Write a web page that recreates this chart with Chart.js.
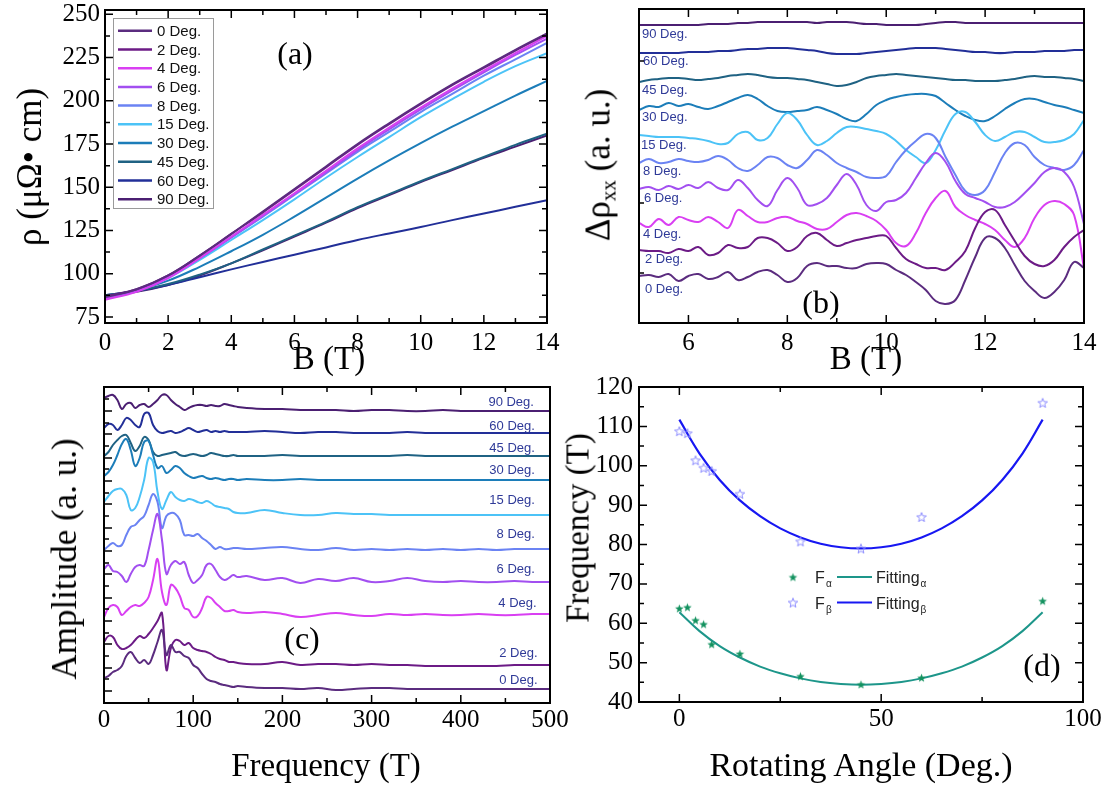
<!DOCTYPE html>
<html>
<head>
<meta charset="utf-8">
<title>Angle dependent magnetoresistance and quantum oscillations</title>
<script src="https://cdn.jsdelivr.net/npm/chart.js@4.4.0/dist/chart.umd.min.js"></script>
<style>
  html, body { margin: 0; padding: 0; background: #fff; }
  #fig { position: relative; width: 1110px; height: 787px; overflow: hidden;
         font-family: "Liberation Serif", "Times New Roman", serif; color: #000; }
  #fig canvas { position: absolute; }
  .title { position: absolute; font-size: 33px; white-space: nowrap; transform: translate(-50%, -50%); }
  .title.v { transform: translate(-50%, -50%) rotate(-90deg); }
  .title sub { font-size: 21px; vertical-align: -6px; }
  .tag { position: absolute; font-size: 32px; transform: translate(-50%, -50%); }
</style>
</head>
<body>
<div id="fig">
  <canvas id="panelA" width="570" height="390" style="left:0;top:0"></canvas>
  <canvas id="panelB" width="540" height="390" style="left:570px;top:0"></canvas>
  <canvas id="panelC" width="570" height="412" style="left:0;top:375px"></canvas>
  <canvas id="panelD" width="540" height="412" style="left:570px;top:375px"></canvas>

  <div class="title v" style="left:30px;top:167px;font-size:35px">ρ (μΩ• cm)</div>
  <div class="title" style="left:329px;top:358px">B (T)</div>
  <div class="title v" style="left:600px;top:165px;font-size:35px">Δρ<sub>xx</sub> (a. u.)</div>
  <div class="title" style="left:866px;top:358px">B (T)</div>
  <div class="title v" style="left:65px;top:559px;font-size:35px">Amplitude (a. u.)</div>
  <div class="title" style="left:326px;top:765px">Frequency (T)</div>
  <div class="title v" style="left:578px;top:528px">Frequency (T)</div>
  <div class="title" style="left:861px;top:765px;font-size:34px">Rotating Angle (Deg.)</div>

  <div class="tag" style="left:295px;top:53px">(a)</div>
  <div class="tag" style="left:821px;top:302px">(b)</div>
  <div class="tag" style="left:302px;top:638px">(c)</div>
  <div class="tag" style="left:1042px;top:665px">(d)</div>
</div>

<script>
// ---------- shared ----------
const angleLabels = ['0 Deg.', '2 Deg.', '4 Deg.', '6 Deg.', '8 Deg.', '15 Deg.', '30 Deg.', '45 Deg.', '60 Deg.', '90 Deg.'];
const angleColors = ['#5b2c7f', '#6c1b86', '#d93ff2', '#a24ff0', '#6b83f3', '#4cc3f7', '#1c7db9', '#1f6283', '#222f98', '#4b1f72'];

// ---------- (a) resistivity vs field ----------
const fieldA = [0, 1, 2, 3, 4, 5, 6, 7, 8, 9, 10, 11, 12, 13, 14];
const rho00 = [86.5, 91, 99, 110.5, 123, 136, 149, 162, 175, 187, 198.5, 209.5, 219.5, 229.5, 239];
const rho02 = [87, 91, 99, 110.5, 123, 135.5, 148.5, 161.5, 174.5, 186.5, 198, 209, 219, 229, 238.5];
const rho04 = [85, 89.5, 97.5, 109, 121.5, 134, 146.5, 159.5, 172.5, 184.5, 196, 207, 217.5, 227.5, 237.5];
const rho06 = [85.5, 90, 98, 109, 121, 133.5, 146, 158.5, 171.5, 183.5, 195, 206, 216.5, 226.5, 236];
const rho08 = [86, 90, 98, 109, 121, 133, 145.5, 158, 170.5, 182, 193.5, 204, 214.5, 224, 233.5];
const rho15 = [86, 90, 97.5, 108, 119.5, 131, 143, 155.5, 167.5, 179, 190.5, 201, 211, 220, 227.5];
const rho30 = [87, 90.5, 96, 104, 113, 122.5, 133, 144, 155, 165.5, 175.5, 185, 194, 203, 211.5];
const rho45 = [87.5, 90, 94, 99.5, 106, 114, 122, 130, 138.5, 146, 153.5, 160.5, 167.5, 174.5, 181];
const rho60 = [87.5, 90, 93.5, 98, 102.5, 106.8, 111, 115.2, 119.5, 123.3, 127, 131, 134.8, 138.7, 142.5];
const rho90 = [87, 89.5, 93.5, 99, 106, 113.5, 121.5, 129.5, 138, 145.5, 153, 160, 167, 173.5, 180];
const aXTicks = [0, 2, 4, 6, 8, 10, 12, 14];
const aXMinor = [1, 3, 5, 7, 9, 11, 13];
const aYTicks = [75, 100, 125, 150, 175, 200, 225, 250];
const aYMinor = [87.5, 112.5, 137.5, 162.5, 187.5, 212.5, 237.5];

// ---------- (b) oscillatory part, offset per angle ----------
const fieldB = [5.0, 5.2, 5.4, 5.6, 5.8, 6.0, 6.2, 6.4, 6.6, 6.8, 7.0, 7.2, 7.4, 7.6, 7.8, 8.0, 8.2, 8.4, 8.6, 8.8,
  9.0, 9.2, 9.4, 9.6, 9.8, 10.0, 10.2, 10.4, 10.6, 10.8, 11.0, 11.2, 11.4, 11.6, 11.8, 12.0, 12.2, 12.4, 12.6, 12.8,
  13.0, 13.2, 13.4, 13.6, 13.8, 14.0];
const osc00 = [47, 48, 46, 49, 42, 47, 49, 44, 46, 51, 43, 46, 51, 53, 48, 41, 45, 57, 60, 57,
  57, 55, 55, 59, 60, 59, 53, 48, 41, 33, 22, 19, 23, 43, 66, 85, 85, 75, 58, 42, 32, 25, 31, 43, 61, 55];
const osc02 = [73, 72, 72, 70, 74, 72, 76, 68, 70, 78, 75, 76, 85, 85, 80, 72, 76, 87, 90, 83,
  77, 80, 83, 85, 87, 87, 75, 64, 59, 55, 55, 53, 61, 72, 95, 111, 113, 98, 82, 67, 59, 57, 63, 76, 86, 93];
const osc04 = [100, 96, 104, 98, 106, 103, 101, 106, 101, 95, 113, 107, 101, 101, 105, 106, 102, 99, 94, 94,
  101, 108, 110, 107, 102, 93, 80, 77, 90, 110, 125, 132, 116, 108, 103, 99, 93, 83, 76, 85, 105, 118, 122, 119, 108, 55];
const osc06 = [134, 136, 133, 137, 134, 138, 135, 141, 135, 133, 143, 135, 123, 117, 133, 145, 135, 118, 119, 125,
  138, 149, 138, 118, 112, 121, 123, 130, 145, 160, 170, 161, 142, 129, 125, 121, 116, 116, 121, 130, 140, 151, 155, 151, 136, 99];
const osc08 = [160, 164, 160, 161, 164, 162, 161, 163, 167, 163, 155, 152, 158, 166, 165, 158, 155, 163, 173, 168,
  160, 155, 151, 146, 145, 147, 161, 173, 182, 189, 185, 166, 148, 132, 128, 133, 151, 170, 180, 178, 166, 158, 155, 153, 158, 173];
const osc15 = [188, 187, 186, 186, 186, 185, 184, 182, 179, 180, 189, 191, 183, 185, 199, 210, 203, 188, 178, 182,
  190, 196, 196, 194, 192, 189, 182, 173, 166, 160, 173, 193, 209, 211, 201, 188, 182, 186, 191, 191, 186, 181, 181, 183, 189, 203];
const osc30 = [213, 217, 216, 220, 217, 219, 216, 214, 217, 221, 225, 228, 224, 217, 212, 211, 212, 213, 216, 213,
  209, 204, 202, 209, 218, 223, 226, 228, 229, 229, 227, 220, 213, 207, 203, 202, 207, 214, 220, 224, 224, 221, 218, 216, 213, 210];
const osc45 = [241, 243, 244, 245, 245, 244, 243, 244, 245, 247, 248, 249, 248, 246, 245, 245, 244, 243, 241, 239,
  237, 238, 241, 245, 247, 248, 249, 248, 247, 246, 245, 244, 243, 243, 242, 242, 242, 243, 244, 246, 247, 246, 246, 245, 244, 242];
const osc60 = [270, 270, 270, 270, 270, 271, 271, 271, 272, 272, 273, 274, 274, 275, 275, 275, 274, 273, 272, 270,
  269, 269, 269, 270, 271, 272, 273, 274, 275, 275, 275, 274, 273, 272, 271, 271, 270, 270, 271, 271, 271, 272, 272, 272, 273, 273];
const osc90 = [298, 298, 298, 298, 298, 298, 298, 299, 299, 299, 300, 300, 301, 301, 301, 301, 301, 301, 300, 301,
  301, 301, 300, 299, 299, 298, 298, 298, 298, 299, 300, 301, 301, 300, 300, 300, 300, 300, 300, 300, 300, 300, 300, 300, 300, 300];
const bXTicks = [6, 8, 10, 12, 14];
const bXMinor = [5, 7, 9, 11, 13];
const bYMarks = [50, 120, 262];

// ---------- (c) FFT amplitude, offset per angle ----------
const freqC = [0, 5, 10, 15, 20, 25, 30, 35, 40, 45, 50, 55, 60, 65, 70, 75, 80, 85, 90, 95, 100,
  105, 110, 115, 120, 125, 130, 135, 140, 145, 150,
  160, 180, 200, 220, 240, 260, 280, 300, 320, 340, 360, 380, 400, 420, 440, 460, 480, 500];
const fft00 = [25, 27, 31, 33, 37, 47, 51, 45, 40, 43, 39, 48, 61, 73, 48, 58, 51, 51, 47, 45, 38, 35, 29, 24, 22, 21, 19, 18, 17, 16, 17,
  16, 15, 15, 14, 15, 13, 14, 15, 15, 14, 14, 14, 14, 14, 14, 14, 14, 14];
const fft02 = [61, 67, 66, 58, 54, 55, 58, 63, 67, 65, 69, 75, 82, 90, 33, 55, 63, 62, 58, 60, 55, 53, 52, 51, 49, 46, 44, 43, 41, 41, 40,
  39, 39, 41, 38, 39, 39, 38, 39, 38, 38, 37, 37, 37, 37, 37, 38, 38, 38];
const fft04 = [86, 95, 98, 96, 88, 92, 96, 98, 97, 100, 106, 123, 144, 111, 98, 118, 115, 107, 95, 93, 86, 87, 95, 106, 105, 100, 96, 92, 92, 93, 91,
  90, 91, 89, 86, 88, 90, 88, 87, 89, 88, 89, 88, 88, 89, 88, 88, 89, 89];
const fft06 = [134, 138, 132, 131, 127, 121, 129, 136, 138, 137, 153, 173, 189, 163, 129, 138, 142, 139, 141, 128, 120, 123, 128, 138, 139, 133, 126, 123, 125, 128, 126,
  127, 123, 125, 120, 124, 122, 125, 121, 122, 125, 122, 121, 122, 121, 121, 122, 121, 121];
const fft08 = [153, 157, 160, 157, 158, 168, 176, 178, 183, 187, 198, 209, 201, 175, 187, 190, 189, 183, 168, 168, 167, 169, 165, 162, 158, 154, 156, 154, 154, 155, 155,
  154, 155, 156, 154, 153, 155, 153, 154, 153, 154, 153, 154, 153, 154, 153, 154, 154, 154];
const fft15 = [201, 207, 212, 214, 214, 208, 193, 195, 206, 223, 245, 241, 211, 194, 203, 211, 206, 203, 202, 204, 203, 201, 200, 202, 200, 197, 196, 195, 194, 191, 190,
  190, 193, 190, 188, 188, 190, 189, 189, 188, 188, 188, 188, 188, 188, 188, 188, 188, 188];
const fft30 = [227, 231, 238, 248, 259, 264, 253, 237, 245, 261, 262, 248, 235, 237, 230, 233, 237, 235, 230, 227, 225, 226, 227, 225, 224, 225, 224, 223, 224, 224, 223,
  224, 223, 223, 224, 223, 223, 223, 223, 223, 223, 223, 223, 223, 223, 223, 223, 223, 223];
const fft45 = [247, 251, 258, 263, 267, 268, 260, 252, 257, 266, 263, 251, 247, 248, 249, 250, 251, 248, 247, 248, 249, 248, 247, 248, 250, 249, 248, 247, 247, 248, 247,
  247, 247, 248, 247, 247, 247, 247, 247, 247, 248, 247, 247, 247, 247, 247, 247, 247, 247];
const fft60 = [275, 279, 278, 273, 278, 285, 283, 278, 276, 289, 290, 278, 272, 270, 271, 272, 270, 271, 273, 275, 273, 271, 272, 273, 271, 272, 271, 272, 271, 271, 271,
  271, 272, 271, 270, 271, 271, 270, 270, 270, 271, 270, 270, 270, 270, 270, 270, 270, 270];
const fft90 = [305, 307, 308, 303, 294, 299, 300, 295, 298, 299, 296, 299, 303, 308, 308, 303, 299, 296, 293, 295, 297, 298, 298, 297, 298, 297, 297, 299, 298, 297, 296,
  295, 294, 294, 293, 293, 293, 292, 293, 293, 292, 292, 293, 292, 292, 292, 292, 292, 292];
const cXTicks = [0, 100, 200, 300, 400, 500];
const cXMinor = [50, 150, 250, 350, 450];
const cYMajor = [12, 35, 59, 82, 105, 129, 152, 175, 199, 222, 245, 269, 292];
const cYMinor = [24, 47, 70, 94, 117, 140, 164, 187, 210, 234, 257, 280, 304];

// ---------- (d) frequencies vs rotating angle ----------
const angleD = [0, 2, 4, 6, 8, 15, 30, 45, 60, 90];
const freqAlpha = [63.8, 64.1, 60.8, 59.8, 54.7, 52.3, 46.6, 44.5, 46.2, 65.7];
const freqBeta = [108.8, 108.3, 101.4, 99.5, 98.7, 92.9, 80.8, 79.0, 87.0, 116.0];
const fitAngle = [0, 5, 10, 15, 20, 25, 30, 35, 40, 45, 50, 55, 60, 65, 70, 75, 80, 85, 90];
const fitAlpha = [62.8, 58.0, 54.2, 51.3, 49.0, 47.3, 46.0, 45.1, 44.6, 44.4, 44.6, 45.1, 46.0, 47.3, 49.0, 51.3, 54.2, 58.0, 62.8];
const fitBeta = [111.7, 103.1, 96.4, 91.2, 87.2, 84.1, 81.8, 80.2, 79.3, 79.0, 79.3, 80.2, 81.8, 84.1, 87.2, 91.2, 96.4, 103.1, 111.7];
const dXTicks = [0, 50, 100];
const dXMinor = [25, 75];
const dYTicks = [40, 50, 60, 70, 80, 90, 100, 110, 120];
const dYMinor = [45, 55, 65, 75, 85, 95, 105, 115];

// ---------- helpers ----------
const serif = '"Liberation Serif", "Times New Roman", serif';
const sans = '"Liberation Sans", Arial, sans-serif';
const tickFont = { family: serif, size: 25 };
const alphaColor = '#13925f', fitAlphaColor = '#1d968a';
const betaColor = '#8c8cff', fitBetaColor = '#1717f2';

const pts = (xs, ys) => ys.map((v, i) => ({ x: xs[i], y: v }));

function makeStar(size, fill, stroke) {
  const c = document.createElement('canvas');
  c.width = c.height = size;
  const g = c.getContext('2d');
  const r = size / 2 - 1, ri = r * 0.42, cx = size / 2, cy = size / 2 + 0.6;
  g.beginPath();
  for (let k = 0; k < 10; k++) {
    const rr = k % 2 ? ri : r;
    const ang = -Math.PI / 2 + k * Math.PI / 5;
    g.lineTo(cx + rr * Math.cos(ang), cy + rr * Math.sin(ang));
  }
  g.closePath();
  if (fill) { g.fillStyle = fill; g.fill(); }
  if (stroke) { g.strokeStyle = stroke; g.lineWidth = 1; g.stroke(); }
  return c;
}
const starAlpha = makeStar(11, alphaColor, null);
const starBeta = makeStar(12, null, betaColor);

// scales with the plot box pinned to fixed pixel offsets inside the canvas
function pinnedScales(o) {
  return {
    x: {
      type: 'linear', min: o.xMin, max: o.xMax,
      afterBuildTicks: s => { s.ticks = o.xTicks.map(v => ({ value: v })); },
      afterFit: s => { s.height = o.xHeight; s.paddingLeft = 0; s.paddingRight = 0; },
      grid: { display: false, drawTicks: false },
      border: { display: false },
      ticks: { display: o.xLabels !== false, padding: o.xPad, color: '#000', font: tickFont, maxRotation: 0, autoSkip: false }
    },
    y: {
      type: 'linear', min: o.yMin, max: o.yMax,
      afterBuildTicks: s => { s.ticks = o.yTicks.map(v => ({ value: v })); },
      afterFit: s => { s.width = o.yWidth; s.paddingTop = 0; s.paddingBottom = 0; },
      grid: { display: false, drawTicks: false },
      border: { display: false },
      ticks: { display: o.yLabels !== false, padding: o.yPad, color: '#000', font: tickFont, autoSkip: false }
    }
  };
}

// box frame with inward ticks on the requested sides
const boxTicks = {
  id: 'boxTicks',
  afterDraw(chart, _args, o) {
    const { ctx, chartArea: a } = chart;
    const xs = chart.scales.x, ys = chart.scales.y;
    ctx.save();
    ctx.strokeStyle = '#000';
    ctx.lineWidth = 1.5;
    ctx.beginPath();
    const xMark = (vals, len) => (vals || []).forEach(v => {
      const p = xs.getPixelForValue(v);
      if (o.xSides.includes('b')) { ctx.moveTo(p, a.bottom); ctx.lineTo(p, a.bottom - len); }
      if (o.xSides.includes('t')) { ctx.moveTo(p, a.top); ctx.lineTo(p, a.top + len); }
    });
    const yMark = (vals, len) => (vals || []).forEach(v => {
      const p = ys.getPixelForValue(v);
      if (o.ySides.includes('l')) { ctx.moveTo(a.left, p); ctx.lineTo(a.left + len, p); }
      if (o.ySides.includes('r')) { ctx.moveTo(a.right, p); ctx.lineTo(a.right - len, p); }
    });
    xMark(o.xMajor, 8); xMark(o.xMinor, 5);
    yMark(o.yMajor, 8); yMark(o.yMinor, 5);
    ctx.stroke();
    ctx.lineWidth = 2;
    ctx.strokeRect(a.left, a.top, a.right - a.left, a.bottom - a.top);
    ctx.restore();
  }
};

// small angle captions next to the stacked curves
const curveTags = {
  id: 'curveTags',
  afterDatasetsDraw(chart, _args, o) {
    const { ctx } = chart;
    const xs = chart.scales.x, ys = chart.scales.y;
    ctx.save();
    ctx.font = '13px ' + sans;
    ctx.fillStyle = '#2f3a98';
    ctx.textBaseline = 'middle';
    ctx.textAlign = o.align;
    o.items.forEach(t => ctx.fillText(t.text, xs.getPixelForValue(t.x), ys.getPixelForValue(t.y)));
    ctx.restore();
  }
};

// framed legend in the upper-left corner of panel (a)
const legendA = {
  id: 'legendA',
  afterDraw(chart) {
    const { ctx, chartArea: a } = chart;
    const x0 = a.left + 8, y0 = a.top + 8;
    ctx.save();
    ctx.fillStyle = '#fff';
    ctx.fillRect(x0, y0, 100, 190);
    ctx.strokeStyle = '#9a9a9a';
    ctx.lineWidth = 1;
    ctx.strokeRect(x0 + 0.5, y0 + 0.5, 100, 190);
    ctx.font = '15px ' + sans;
    ctx.textBaseline = 'middle';
    chart.data.datasets.forEach((ds, i) => {
      const y = y0 + 12.7 + i * 18.73;
      ctx.strokeStyle = ds.borderColor;
      ctx.lineWidth = 2.5;
      ctx.beginPath(); ctx.moveTo(x0 + 5, y); ctx.lineTo(x0 + 39, y); ctx.stroke();
      ctx.fillStyle = '#111';
      ctx.fillText(ds.label, x0 + 44, y + 1);
    });
    ctx.restore();
  }
};

// legend of panel (d): star symbols, fit lines, subscripted names
const legendD = {
  id: 'legendD',
  afterDraw(chart) {
    const { ctx, chartArea: a } = chart;
    const rows = [
      { star: starAlpha, sym: 'α', color: fitAlphaColor, y: a.top + 190 },
      { star: starBeta, sym: 'β', color: fitBetaColor, y: a.top + 215.5 }
    ];
    ctx.save();
    ctx.textAlign = 'left';
    ctx.textBaseline = 'alphabetic';
    rows.forEach(r => {
      ctx.drawImage(r.star, a.left + 154 - r.star.width / 2, r.y - r.star.height / 2);
      ctx.fillStyle = '#222';
      ctx.font = '16px ' + sans;
      ctx.fillText('F', a.left + 176, r.y + 6);
      ctx.font = '10px ' + sans;
      ctx.fillText(r.sym, a.left + 187, r.y + 10);
      ctx.strokeStyle = r.color;
      ctx.lineWidth = 2;
      ctx.beginPath(); ctx.moveTo(a.left + 198, r.y); ctx.lineTo(a.left + 233, r.y); ctx.stroke();
      ctx.font = '16px ' + sans;
      ctx.fillText('Fitting', a.left + 237, r.y + 6);
      const w = ctx.measureText('Fitting').width;
      ctx.font = '10px ' + sans;
      ctx.fillText(r.sym, a.left + 238 + w, r.y + 10);
    });
    ctx.restore();
  }
};

const baseOptions = {
  responsive: false,
  animation: false,
  events: [],
  plugins: { legend: { display: false }, tooltip: { enabled: false } }
};

function stacked(xs, series, width) {
  return series.map((ys, i) => ({
    label: angleLabels[i],
    data: pts(xs, ys),
    borderColor: angleColors[i],
    borderWidth: width,
    pointRadius: 0,
    tension: 0.4,
    fill: false
  }));
}

// ---------- panel (a) ----------
new Chart(document.getElementById('panelA'), {
  type: 'line',
  data: { datasets: stacked(fieldA, [rho00, rho02, rho04, rho06, rho08, rho15, rho30, rho45, rho60, rho90], 2) },
  options: {
    ...baseOptions,
    layout: { autoPadding: false, padding: { left: 0, top: 10, right: 23, bottom: 0 } },
    scales: pinnedScales({
      xMin: 0, xMax: 14, xTicks: aXTicks, xHeight: 67, xPad: 5,
      yMin: 71.5, yMax: 252.5, yTicks: aYTicks, yWidth: 105, yPad: 5
    }),
    plugins: {
      ...baseOptions.plugins,
      boxTicks: { xMajor: aXTicks, xMinor: aXMinor, yMajor: aYTicks, yMinor: aYMinor, xSides: 'bt', ySides: 'lr' }
    }
  },
  plugins: [boxTicks, legendA]
});

// ---------- panel (b) ----------
const bSeries = [osc00, osc02, osc04, osc06, osc08, osc15, osc30, osc45, osc60, osc90];
const bTagY = [34, 64, 89, 125, 152, 178, 206, 233, 262, 289];
const bTagX = [5.12, 5.12, 5.08, 5.1, 5.08, 5.04, 5.06, 5.06, 5.08, 5.06];
new Chart(document.getElementById('panelB'), {
  type: 'line',
  data: { datasets: stacked(fieldB, bSeries, 2) },
  options: {
    ...baseOptions,
    layout: { autoPadding: false, padding: { left: 0, top: 9, right: 26, bottom: 0 } },
    scales: pinnedScales({
      xMin: 5, xMax: 14, xTicks: bXTicks, xHeight: 67, xPad: 5,
      yMin: 0, yMax: 314, yTicks: bYMarks, yWidth: 69, yPad: 5, yLabels: false
    }),
    plugins: {
      ...baseOptions.plugins,
      boxTicks: { xMajor: bXTicks, xMinor: bXMinor, yMinor: bYMarks, xSides: 'bt', ySides: 'l' },
      curveTags: { align: 'left', items: angleLabels.map((t, i) => ({ text: t, x: bTagX[i], y: bTagY[i] })) }
    }
  },
  plugins: [boxTicks, curveTags]
});

// ---------- panel (c) ----------
const cSeries = [fft00, fft02, fft04, fft06, fft08, fft15, fft30, fft45, fft60, fft90];
const cTagY = [23, 50, 100, 134, 169, 203, 233, 255, 277, 301];
const cTagX = [486, 486, 485, 483, 483, 483, 483, 483, 483, 482];
new Chart(document.getElementById('panelC'), {
  type: 'line',
  data: { datasets: stacked(freqC, cSeries, 2) },
  options: {
    ...baseOptions,
    layout: { autoPadding: false, padding: { left: 0, top: 12, right: 20, bottom: 0 } },
    scales: pinnedScales({
      xMin: 0, xMax: 500, xTicks: cXTicks, xHeight: 84, xPad: 2,
      yMin: 0, yMax: 316, yTicks: cYMajor, yWidth: 104, yPad: 5, yLabels: false
    }),
    plugins: {
      ...baseOptions.plugins,
      boxTicks: { xMajor: cXTicks, xMinor: cXMinor, yMajor: cYMajor, yMinor: cYMinor, xSides: 'bt', ySides: 'l' },
      curveTags: { align: 'right', items: angleLabels.map((t, i) => ({ text: t, x: cTagX[i], y: cTagY[i] })) }
    }
  },
  plugins: [boxTicks, curveTags]
});

// ---------- panel (d) ----------
new Chart(document.getElementById('panelD'), {
  type: 'scatter',
  data: {
    datasets: [
      { label: 'Fα', data: pts(angleD, freqAlpha), pointStyle: starAlpha, pointRadius: 6, showLine: false },
      { label: 'Fβ', data: pts(angleD, freqBeta), pointStyle: starBeta, pointRadius: 6, showLine: false },
      { label: 'Fittingα', data: pts(fitAngle, fitAlpha), showLine: true, borderColor: fitAlphaColor, borderWidth: 2, pointRadius: 0, tension: 0.4 },
      { label: 'Fittingβ', data: pts(fitAngle, fitBeta), showLine: true, borderColor: fitBetaColor, borderWidth: 2.2, pointRadius: 0, tension: 0.4 }
    ]
  },
  options: {
    ...baseOptions,
    layout: { autoPadding: false, padding: { left: 0, top: 12, right: 27, bottom: 0 } },
    scales: pinnedScales({
      xMin: -10, xMax: 100, xTicks: dXTicks, xHeight: 85, xPad: 2,
      yMin: 40, yMax: 120, yTicks: dYTicks, yWidth: 69, yPad: 6
    }),
    plugins: {
      ...baseOptions.plugins,
      boxTicks: { xMajor: dXTicks, xMinor: dXMinor, yMajor: dYTicks, yMinor: dYMinor, xSides: 'bt', ySides: 'lr' }
    }
  },
  plugins: [boxTicks, legendD]
});
</script>
</body>
</html>
